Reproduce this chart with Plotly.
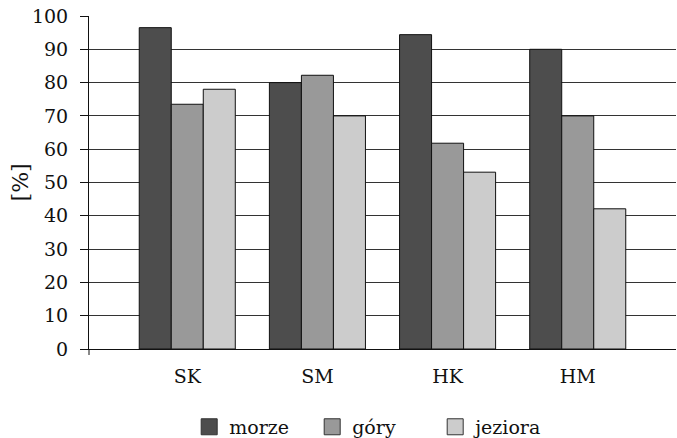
import plotly.graph_objects as go

categories = ["SK", "SM", "HK", "HM"]
series_names = ["morze", "góry", "jeziora"]
morze = [96.5, 80.0, 94.4, 90.0]
gory = [73.5, 82.2, 61.8, 70.0]
jeziora = [78.0, 70.0, 53.1, 42.1]
y_ticks = [0, 10, 20, 30, 40, 50, 60, 70, 80, 90, 100]
y_title = "[%]"

colors = ["#4d4d4d", "#999999", "#cccccc"]
values = [morze, gory, jeziora]

FONT = "DejaVu Serif"

fig = go.Figure()
for name, vals, col in zip(series_names, values, colors):
    fig.add_trace(go.Bar(
        x=categories, y=vals, name=name, showlegend=False,
        marker=dict(color=col, line=dict(color="#111111", width=1)),
    ))
for name, col in zip(series_names, colors):
    fig.add_trace(go.Scatter(
        x=[None], y=[None], mode="markers", name=name,
        marker=dict(symbol="square", size=20, color=col,
                    line=dict(color="#333333", width=1)),
    ))

fig.update_layout(
    width=677, height=438,
    margin=dict(l=89, r=1, t=16, b=89, autoexpand=False),
    paper_bgcolor="white", plot_bgcolor="white",
    barmode="group", bargap=0.262, bargroupgap=0,
    font=dict(family=FONT, size=19, color="#111111"),
    legend=dict(orientation="h", x=0.485, xanchor="center", y=-0.234, yanchor="middle",
                font=dict(family=FONT, size=19), itemwidth=30, tracegroupgap=0,
                entrywidth=78),
    xaxis=dict(
        range=[-0.755, 3.755], showgrid=False, showline=True, automargin=False,
        linecolor="#111111", linewidth=1, ticks="", tickfont=dict(size=19),
        zeroline=False, ticklabelstandoff=10,
    ),
    yaxis=dict(
        range=[0, 100], tickvals=y_ticks, showgrid=True, gridcolor="#333333",
        automargin=False,
        gridwidth=1, showline=True, linecolor="#111111", linewidth=1,
        ticks="outside", ticklen=8, tickcolor="#111111", zeroline=False,
        tickfont=dict(size=19), ticklabelstandoff=8,
    ),
    annotations=[dict(text=y_title, textangle=-90, xref="paper", yref="paper",
                      x=-0.116, y=0.5, xanchor="center", yanchor="middle",
                      showarrow=False, font=dict(size=22, family=FONT))],
)
fig.add_shape(type="line", xref="paper", yref="paper", x0=0, x1=0, y0=0, y1=-0.018,
              line=dict(color="#111111", width=1))

fig.write_html("out.html", config={"displayModeBar": False},
               post_script="document.body.style.margin='0';document.body.style.overflow='hidden';")
